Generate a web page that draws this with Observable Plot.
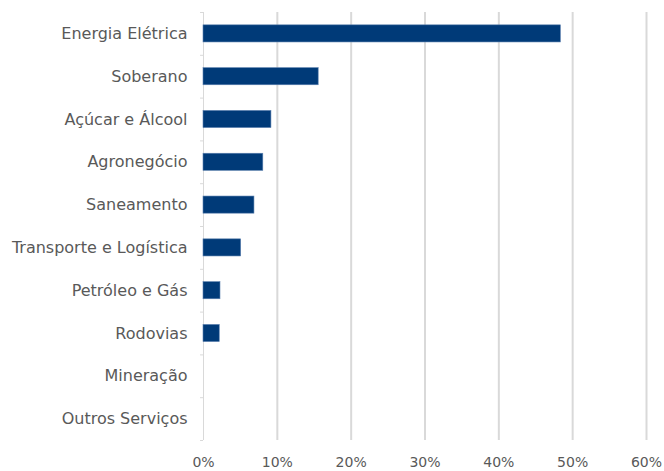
<!DOCTYPE html>
<html>
<head>
<meta charset="utf-8">
<script src="https://cdn.jsdelivr.net/npm/d3@7"></script>
<script src="https://cdn.jsdelivr.net/npm/@observablehq/plot@0.6"></script>
<style>
  html, body { margin: 0; padding: 0; background: #fff; }
  svg { display: block; }
</style>
</head>
<body>
<div id="chart"></div>
<script>
const categories = ["Energia Elétrica", "Soberano", "Açúcar e Álcool", "Agronegócio", "Saneamento", "Transporte e Logística", "Petróleo e Gás", "Rodovias", "Mineração", "Outros Serviços"];
const values = [0.484, 0.156, 0.092, 0.081, 0.069, 0.051, 0.023, 0.022, 0, 0];
const xTicks = [0, 0.1, 0.2, 0.3, 0.4, 0.5, 0.6];

const data = categories.map((c, i) => ({ category: c, value: values[i] }));

const W = 664, H = 471;
const mTop = 12, mBottom = 31, mLeft = 203, mRight = 18;
const step = (H - mTop - mBottom) / categories.length;

const chart = Plot.plot({
  width: W,
  height: H,
  marginTop: mTop,
  marginBottom: mBottom,
  marginLeft: mLeft,
  marginRight: mRight,
  style: { fontFamily: "'DejaVu Sans', Verdana, sans-serif", fontSize: "14px", color: "#595959", background: "#fff" },
  x: { domain: [0, 0.6], ticks: xTicks, label: null },
  y: { domain: categories, paddingInner: 0.6, paddingOuter: 0.3, round: false, label: null },
  marks: [
    Plot.ruleX(xTicks.filter(d => d > 0), { stroke: "#d9d9d9", strokeWidth: 2 }),
    Plot.ruleX([0], { stroke: "#d9d9d9", strokeWidth: 1 }),
    Plot.ruleY(categories, { y: d => d, x1: -0.004, x2: 0, dy: -step / 2, stroke: "#d9d9d9", strokeWidth: 1 }),
    Plot.ruleY([categories[categories.length - 1]], { y: d => d, x1: -0.004, x2: 0, dy: step / 2, stroke: "#d9d9d9", strokeWidth: 1 }),
    Plot.barX(data, { y: "category", x: "value", fill: "#003a78", stroke: "#5a7fae", strokeWidth: 0.6 }),
    Plot.axisX({ ticks: xTicks, tickFormat: d => Math.round(d * 100) + "%", tickSize: 0, tickPadding: 17, fontSize: 14, fill: "#595959", label: null }),
    Plot.axisY({ tickSize: 0, tickPadding: 16, fontSize: 16, fill: "#595959", label: null })
  ]
});
document.getElementById("chart").appendChild(chart);
</script>
</body>
</html>
